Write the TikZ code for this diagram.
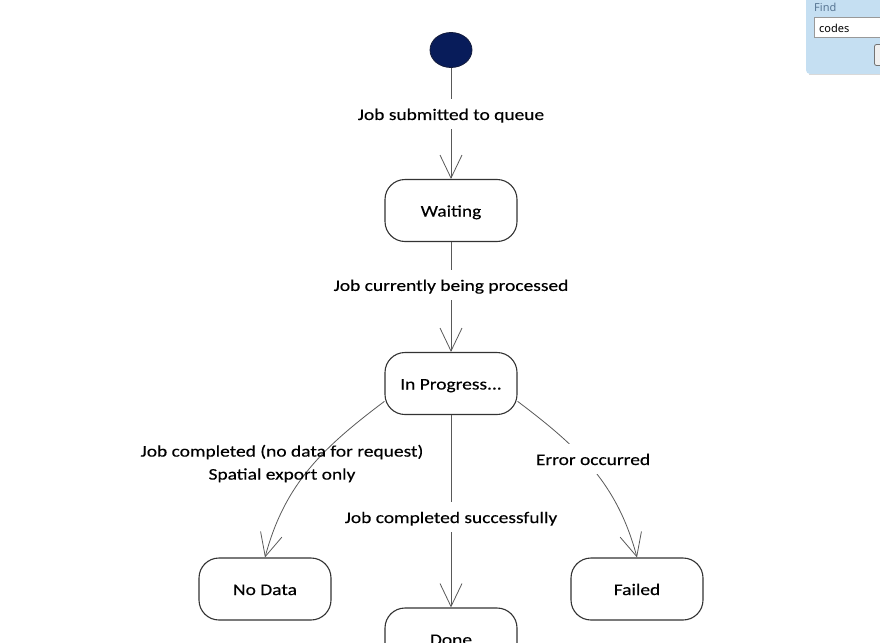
\documentclass[tikz,border=0pt]{standalone}
\usepackage{fontspec}
\setmainfont{Carlito}[FakeStretch=1.2,FakeBold=0.25]
\newfontfamily\uifont{Noto Sans}
\usetikzlibrary{arrows.meta,shapes.geometric}
\definecolor{navy}{RGB}{8,28,90}
\definecolor{navyline}{RGB}{20,28,60}
\definecolor{findbg}{RGB}{197,223,242}
\definecolor{findtxt}{RGB}{88,118,148}
\begin{document}
\begin{tikzpicture}[x=1pt,y=-1pt,
  state/.style={draw=black!80, line width=1.1pt, rounded corners=20pt,
    minimum width=132pt, minimum height=62pt, inner sep=0pt, fill=white,
    text height=14pt, text depth=2pt,
    font=\fontsize{16.2}{19}\selectfont},
  trans/.style={draw=black!65, line width=0.8pt,
    -{Straight Barb[length=23pt,width=22pt,line width=0.8pt]}},
  lbl/.style={font=\fontsize{16.2}{19}\selectfont, fill=white, inner xsep=3pt, inner ysep=7pt,
    text height=14pt, text depth=2pt},
  plainlbl/.style={font=\fontsize{16.2}{23}\selectfont, align=center, inner sep=0pt},
]
\useasboundingbox (0,0) rectangle (880,642);
\clip (0,0) rectangle (880,642);

% states
\node[draw=navyline, fill=navy, line width=0.8pt, ellipse, minimum width=42pt,
      minimum height=35pt, inner sep=0pt] (init) at (451,50) {};
\node[state] (wait) at (451,210.5) {Waiting};
\node[state] (ip) at (451,383.5) {In Progress...};
\node[state] (nd) at (265,589) {No Data};
\node[state] (fd) at (637,589) {Failed};
\node[state] (done) at (451,639) {Done};

% transitions
\draw[trans] (init) -- node[lbl,pos=0.415] (l1) {Job submitted to queue} (wait);
\draw[trans] (wait) -- node[lbl,pos=0.39] (l2) {Job currently being processed} (ip);
\draw[trans] (ip) -- node[lbl,pos=0.53] (l3) {Job completed successfully} (done);
\draw[trans] (ip.-15) to[out=-37,in=105] (fd.north);
\node[lbl] (l4) at (593,459) {Error occurred};
\draw[trans] (ip.-165) to[out=217,in=75] (nd.north);
\node[plainlbl] (l5) at (282,463.5) {Job completed (no data for request)\\Spatial export only};

% Find panel fragment
\fill[findbg, rounded corners=4pt] (806,-10) rectangle (895,74);
\draw[black!15, line width=1pt] (809,74.5) -- (880,74.5);
\node[anchor=west, text=findtxt, inner sep=0pt,
      font=\uifont\fontsize{11}{12}\selectfont\bfseries] (findlbl) at (814,7) {Find};
\draw[fill=white, draw=black!40, line width=0.8pt] (814.5,17.5) rectangle (895,37.5);
\node[anchor=west, inner sep=0pt, font=\uifont\fontsize{11}{12}\selectfont] (findtxt) at (819,28) {codes};
\draw[fill=black!6, draw=black!55, line width=0.8pt, rounded corners=2pt] (874.5,44.5) rectangle (897,65.5);
\end{tikzpicture}
\end{document}
